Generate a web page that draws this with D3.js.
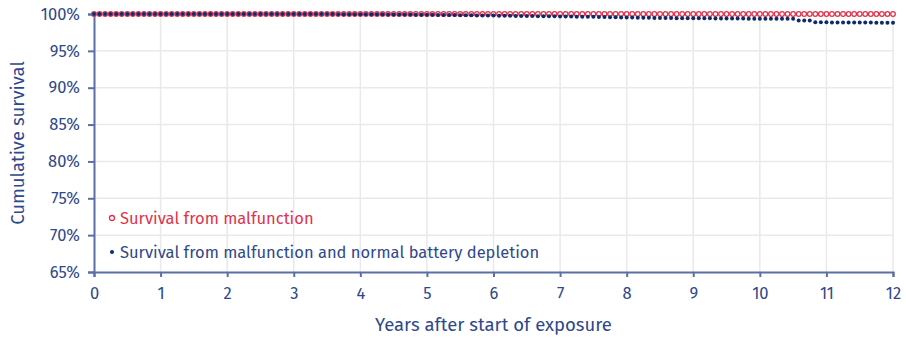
<!DOCTYPE html>
<html>
<head>
<meta charset="utf-8">
<script src="https://cdn.jsdelivr.net/npm/d3@7"></script>
<style>
  html, body { margin: 0; padding: 0; background: #fff; }
  svg text { font-family: "Fira Sans", "Noto Sans", sans-serif; }
</style>
</head>
<body>
<svg id="chart" width="906" height="338"></svg>
<script>
// Monthly follow-up points (months 0..144)
const months = d3.range(0, 145);

// Survival from malfunction (%), one value per month
const survivalMalfunction = [
  100,100,100,100,100,100,100,100,100,100,100,100,
  100,100,100,100,100,100,100,100,100,100,100,100,
  100,100,100,100,100,100,100,100,100,100,100,100,
  100,100,100,100,100,100,100,100,100,100,100,100,
  100,100,100,100,100,100,100,100,100,100,100,100,
  100,100,100,100,100,100,100,100,100,100,100,100,
  100,100,100,100,100,100,100,100,100,100,100,100,
  100,100,100,100,100,100,100,100,100,100,100,100,
  100,100,100,100,100,100,100,100,100,100,100,100,
  100,100,100,100,100,100,100,100,100,100,100,100,
  100,100,100,100,100,100,100,100,100,100,100,100,
  100,100,100,100,100,100,100,100,100,100,100,100,
  100
];

// Survival from malfunction and normal battery depletion (%), one value per month
const survivalCombined = [
  100,100,100,100,100,100,100,100,100,100,100,100,
  100,100,100,100,100,100,100,100,100,100,100,100,
  100,100,100,100,100,100,100,100,100,100,100,100,
  100,100,100,100,100,99.99,99.99,99.99,99.98,99.98,99.98,99.97,
  99.97,99.96,99.96,99.95,99.95,99.94,99.94,99.93,99.92,99.92,99.91,99.9,
  99.9,99.89,99.88,99.87,99.86,99.85,99.84,99.83,99.82,99.81,99.8,99.79,
  99.78,99.77,99.76,99.75,99.74,99.73,99.72,99.72,99.71,99.7,99.69,99.68,
  99.67,99.66,99.65,99.64,99.63,99.62,99.61,99.6,99.59,99.57,99.55,99.54,
  99.52,99.51,99.5,99.49,99.48,99.47,99.46,99.46,99.45,99.44,99.44,99.43,
  99.42,99.42,99.41,99.41,99.4,99.4,99.39,99.39,99.38,99.38,99.37,99.36,
  99.36,99.36,99.35,99.35,99.35,99.34,99.34,99.12,99.12,99.12,98.88,98.87,
  98.87,98.86,98.86,98.85,98.85,98.84,98.84,98.83,98.83,98.82,98.82,98.81,
  98.8
];

const xTicks = [0,1,2,3,4,5,6,7,8,9,10,11,12];
const yTicks = [65,70,75,80,85,90,95,100];

const legendItems = [
  { label: "Survival from malfunction", kind: "open" },
  { label: "Survival from malfunction and normal battery depletion", kind: "filled" }
];

const colors = {
  red: "#e0334c",
  navy: "#0e2a6b",
  text: "#2f4889",
  axis: "#5a6fa3",
  grid: "#e9e9e9"
};

const margin = { left: 94, right: 13, top: 14, bottom: 66 };
const W = 906, H = 338;
const svg = d3.select("#chart");

const x = d3.scaleLinear().domain([0, 12]).range([margin.left, W - margin.right]);
const y = d3.scaleLinear().domain([65, 100]).range([H - margin.bottom, margin.top]);

// grid
svg.append("g").selectAll("line.v").data(xTicks.slice(1)).join("line")
  .attr("x1", d => x(d)).attr("x2", d => x(d))
  .attr("y1", y(100)).attr("y2", y(65))
  .attr("stroke", colors.grid).attr("stroke-width", 1.5);
svg.append("g").selectAll("line.h").data(yTicks.slice(1)).join("line")
  .attr("x1", x(0)).attr("x2", x(12))
  .attr("y1", d => y(d)).attr("y2", d => y(d))
  .attr("stroke", colors.grid).attr("stroke-width", 1.5);

// axes
const xAxis = svg.append("g")
  .attr("transform", `translate(0,${y(65)})`)
  .call(d3.axisBottom(x).tickValues(xTicks).tickFormat(d3.format("d")).tickSize(5).tickPadding(10));
const yAxis = svg.append("g")
  .attr("transform", `translate(${x(0)},0)`)
  .call(d3.axisLeft(y).tickValues(yTicks).tickFormat(d => d + "%").tickSize(6).tickPadding(8));

[xAxis, yAxis].forEach(g => {
  g.select(".domain").attr("stroke", colors.axis).attr("stroke-width", 2);
  g.selectAll(".tick line").attr("stroke", colors.axis).attr("stroke-width", 2);
  g.selectAll(".tick text").attr("fill", colors.text).attr("font-size", 16.5);
});

// axis titles
svg.append("text")
  .attr("x", (x(0) + x(12)) / 2).attr("y", 331)
  .attr("text-anchor", "middle").attr("fill", colors.text).attr("font-size", 18.5)
  .text("Years after start of exposure");
svg.append("text")
  .attr("transform", `translate(24,${(y(65) + y(100)) / 2}) rotate(-90)`)
  .attr("text-anchor", "middle").attr("fill", colors.text).attr("font-size", 18.5)
  .text("Cumulative survival");

// series
svg.append("g").selectAll("circle").data(months).join("circle")
  .attr("cx", m => x(m / 12)).attr("cy", m => y(survivalMalfunction[m]))
  .attr("r", 2.3).attr("fill", "#fff").attr("stroke", colors.red).attr("stroke-width", 1.3);
svg.append("g").selectAll("circle").data(months).join("circle")
  .attr("cx", m => x(m / 12)).attr("cy", m => y(survivalCombined[m]))
  .attr("r", 2).attr("fill", colors.navy);

// legend
const legend = svg.append("g");
legendItems.forEach((item, i) => {
  const cy = 218 + i * 34;
  if (item.kind === "open") {
    legend.append("circle").attr("cx", 112).attr("cy", cy).attr("r", 2.5)
      .attr("fill", "#fff").attr("stroke", colors.red).attr("stroke-width", 1.3);
  } else {
    legend.append("circle").attr("cx", 112).attr("cy", cy).attr("r", 2).attr("fill", colors.navy);
  }
  legend.append("text").attr("x", 120).attr("y", cy + 6)
    .attr("fill", i === 0 ? colors.red : colors.text).attr("font-size", 16.5)
    .text(item.label);
});
</script>
</body>
</html>
